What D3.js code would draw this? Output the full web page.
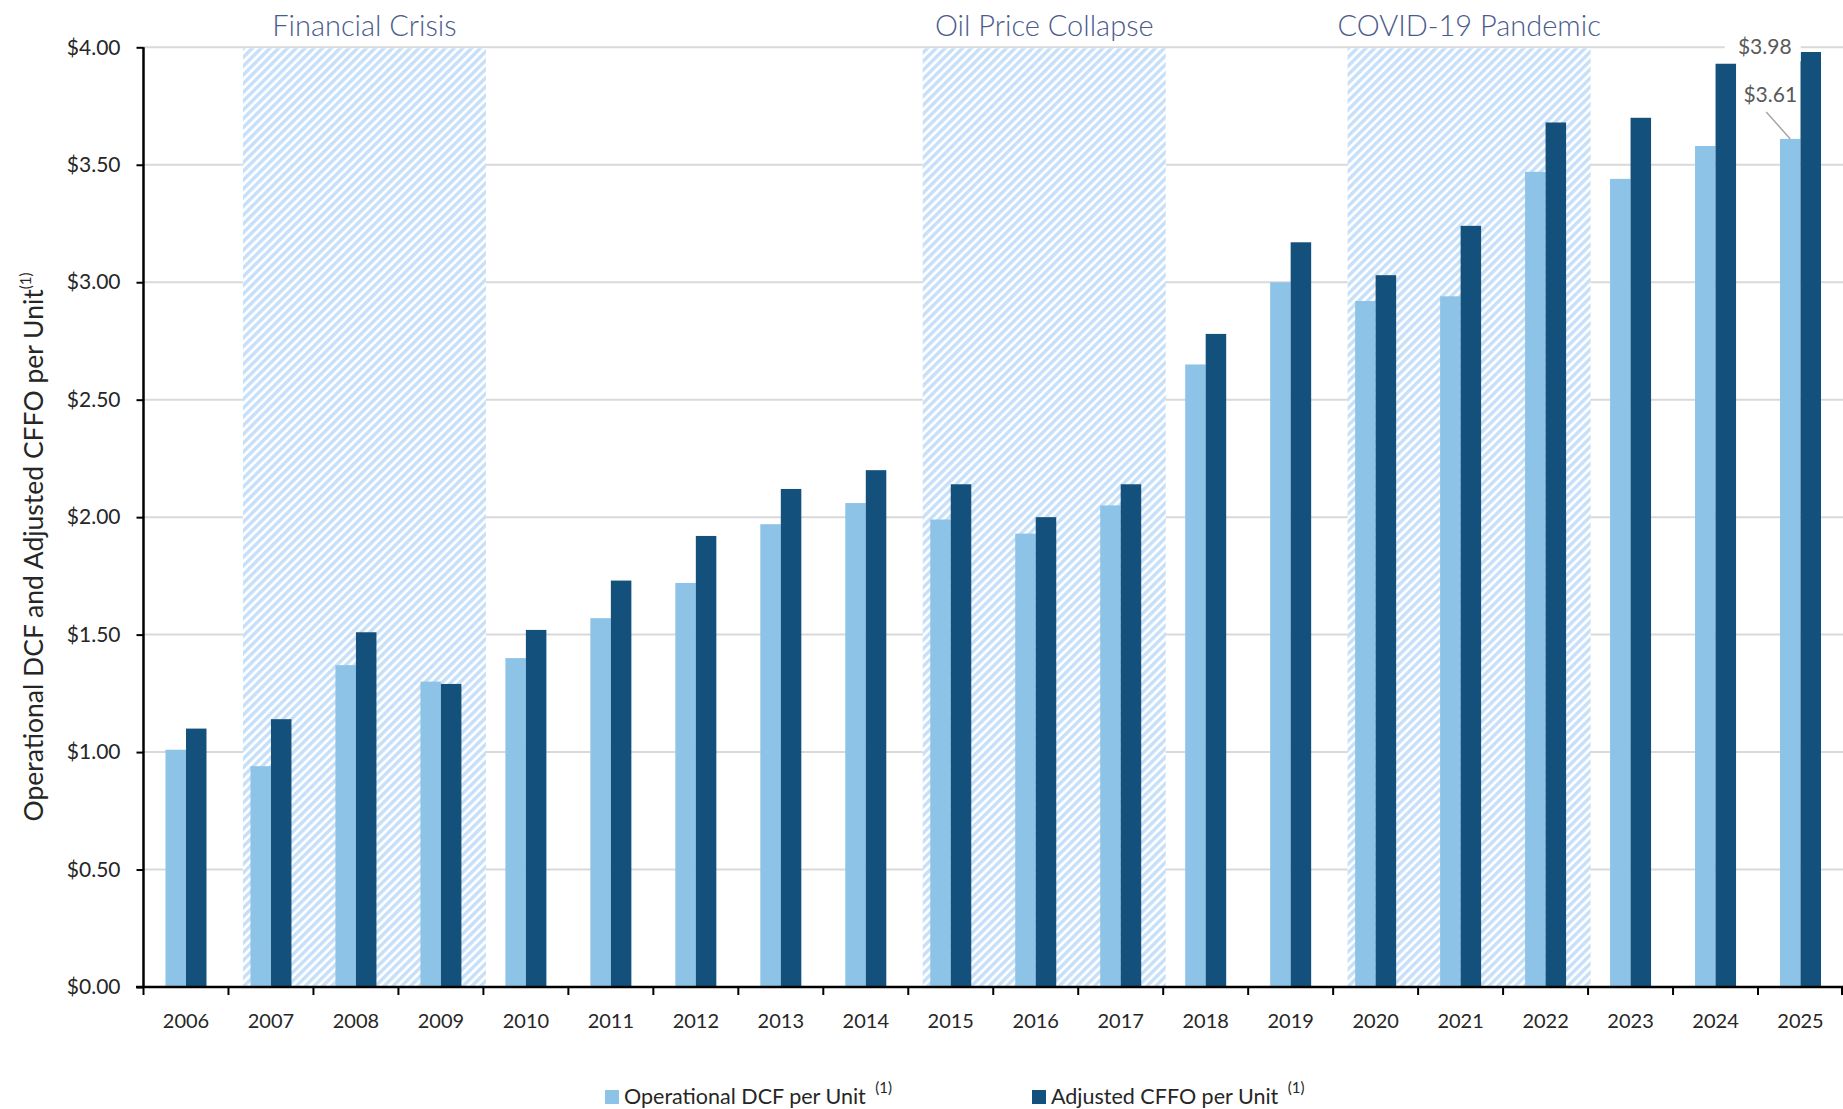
<!DOCTYPE html>
<html>
<head>
<meta charset="utf-8">
<script src="https://cdnjs.cloudflare.com/ajax/libs/d3/7.8.5/d3.min.js"></script>
<style>
    body { margin: 0; background: #fff; }
    text { font-family: Lato, "Open Sans", sans-serif; }
</style>
</head>
<body>
<div id="chart"></div>
<script>
var years = ["2006","2007","2008","2009","2010","2011","2012","2013","2014","2015",
             "2016","2017","2018","2019","2020","2021","2022","2023","2024","2025"];
var dcfPerUnit  = [1.01,0.94,1.37,1.30,1.40,1.57,1.72,1.97,2.06,1.99,
                   1.93,2.05,2.65,3.00,2.92,2.94,3.47,3.44,3.58,3.61];
var cffoPerUnit = [1.10,1.14,1.51,1.29,1.52,1.73,1.92,2.12,2.20,2.14,
                   2.00,2.14,2.78,3.17,3.03,3.24,3.68,3.70,3.93,3.98];
var seriesNames = ["Operational DCF per Unit", "Adjusted CFFO per Unit"];
var periods = [
    {label: "Financial Crisis",    from: "2007", to: "2009"},
    {label: "Oil Price Collapse",  from: "2015", to: "2017"},
    {label: "COVID-19 Pandemic",   from: "2020", to: "2022"}
];
var yTicks = [0, 0.5, 1, 1.5, 2, 2.5, 3, 3.5, 4];

(function () {
    var width = 1843,
        height = 1109;

    var light = "#8DC3E7",
        dark = "#13517C";

    var svg = d3.select("#chart")
        .append("svg")
        .attr("width", width)
        .attr("height", height);

    var defs = svg.append("defs");

    // diagonal hatch for the crisis periods
    var pat = defs.append("pattern")
        .attr("id", "hatch")
        .attr("patternUnits", "userSpaceOnUse")
        .attr("width", 6.2)
        .attr("height", 6.2)
        .attr("patternTransform", "rotate(45)");
    pat.append("rect")
        .attr("width", 6.2).attr("height", 6.2).attr("fill", "#fff");
    pat.append("rect")
        .attr("x", 0).attr("y", 0)
        .attr("width", 3.4).attr("height", 6.2)
        .attr("fill", "#C6E0F9");

    var x = d3.scaleBand().domain(years).range([143.5, 1843]);
    var bw = x.bandwidth();
    var xs = d3.scaleBand().domain(seriesNames).range([bw / 2 - 20.5, bw / 2 + 20.5]);
    var y = d3.scaleLinear().domain([0, 4]).range([987, 47.3]);

    var data = years.map(function (yr, i) {
        return {year: yr, values: [dcfPerUnit[i], cffoPerUnit[i]]};
    });

    // gridlines
    svg.append("g")
        .selectAll("line")
        .data(yTicks.filter(function (d) { return d > 0; }))
        .enter().append("line")
        .attr("x1", 143.5)
        .attr("x2", width)
        .attr("y1", function (d) { return y(d); })
        .attr("y2", function (d) { return y(d); })
        .attr("stroke", "#D9D9D9")
        .attr("stroke-width", 2);

    // shaded periods
    svg.append("g")
        .selectAll("rect")
        .data(periods)
        .enter().append("rect")
        .attr("x", function (d) { return x(d.from) + bw * 0.17; })
        .attr("width", function (d) { return x(d.to) + bw * 1.03 - (x(d.from) + bw * 0.17); })
        .attr("y", y(4) + 1)
        .attr("height", y(0) - y(4) - 1)
        .attr("fill", "url(#hatch)");

    svg.append("g")
        .selectAll("text")
        .data(periods)
        .enter().append("text")
        .attr("x", function (d) { return (x(d.from) + bw * 0.17 + x(d.to) + bw * 1.03) / 2; })
        .attr("y", 36)
        .attr("text-anchor", "middle")
        .attr("font-size", 29)
        .attr("font-weight", 300)
        .attr("fill", "#4A5B8C")
        .text(function (d) { return d.label; });

    // bars
    var groups = svg.append("g")
        .selectAll("g")
        .data(data)
        .enter().append("g")
        .attr("transform", function (d) { return "translate(" + x(d.year) + ",0)"; });

    groups.selectAll("rect")
        .data(function (d) {
            return d.values.map(function (v, j) { return {name: seriesNames[j], value: v}; });
        })
        .enter().append("rect")
        .attr("x", function (d) { return xs(d.name); })
        .attr("width", xs.bandwidth())
        .attr("y", function (d) { return y(d.value); })
        .attr("height", function (d) { return y(0) - y(d.value); })
        .attr("fill", function (d, j) { return j === 0 ? light : dark; });

    // y axis
    var yAxis = svg.append("g")
        .attr("transform", "translate(143.5,0)")
        .call(d3.axisLeft(y)
            .tickValues(yTicks)
            .tickSize(7)
            .tickPadding(16)
            .tickFormat(function (d) { return "$" + d.toFixed(2); }));
    yAxis.select(".domain").attr("stroke", "#000").attr("stroke-width", 2.5)
        .attr("d", "M0," + y(4) + "V" + y(0));
    yAxis.selectAll(".tick line").attr("stroke", "#000").attr("stroke-width", 2);
    yAxis.selectAll(".tick text")
        .attr("font-size", 21)
        .attr("fill", "#262626")
        .attr("font-family", "Lato, sans-serif");

    // x axis
    var xAxis = svg.append("g")
        .attr("transform", "translate(0," + y(0) + ")")
        .call(d3.axisBottom(x).tickSize(0).tickPadding(41));
    xAxis.select(".domain").attr("stroke", "#000").attr("stroke-width", 2.5)
        .attr("d", "M136," + 0 + "H" + width);
    xAxis.selectAll(".tick text")
        .attr("font-size", 20)
        .attr("fill", "#262626")
        .attr("font-family", "Lato, sans-serif")
        .attr("dy", "0");

    xAxis.selectAll(".xtick")
        .data(years.map(function (d) { return x(d); }).concat([x(years[years.length - 1]) + bw - 1]))
        .enter().append("line")
        .attr("class", "xtick")
        .attr("x1", function (d) { return d; })
        .attr("x2", function (d) { return d; })
        .attr("y1", 0)
        .attr("y2", 8)
        .attr("stroke", "#000")
        .attr("stroke-width", 2);

    // y title
    var yTitle = svg.append("text")
        .attr("transform", "translate(43,547) rotate(-90)")
        .attr("text-anchor", "middle")
        .attr("font-size", 26.5)
        .attr("fill", "#262626");
    yTitle.append("tspan").text("Operational DCF and Adjusted CFFO per Unit");
    yTitle.append("tspan").attr("font-size", 15).attr("dy", -12).text("(1)");

    // callouts on last year
    var last = data[data.length - 1];
    var lastX = x(last.year);
    var darkC = lastX + xs(seriesNames[1]) + xs.bandwidth() / 2;
    var lightC = lastX + xs(seriesNames[0]) + xs.bandwidth() / 2;

    svg.append("rect")
        .attr("x", darkC - 86)
        .attr("y", y(4) - 14)
        .attr("width", 76)
        .attr("height", 28)
        .attr("fill", "#fff");
    svg.append("text")
        .attr("x", darkC - 46)
        .attr("y", y(4) + 7)
        .attr("text-anchor", "middle")
        .attr("font-size", 21)
        .attr("fill", "#595959")
        .text("$" + last.values[1].toFixed(2));

    svg.append("text")
        .attr("x", lightC - 20)
        .attr("y", y(last.values[0]) - 37)
        .attr("text-anchor", "middle")
        .attr("font-size", 21)
        .attr("fill", "#595959")
        .text("$" + last.values[0].toFixed(2));
    svg.append("line")
        .attr("x1", lightC - 24)
        .attr("y1", y(last.values[0]) - 27)
        .attr("x2", lightC)
        .attr("y2", y(last.values[0]))
        .attr("stroke", "#A6A6A6")
        .attr("stroke-width", 1.5);

    // legend
    var legendX = [605, 1032];
    var legend = svg.append("g")
        .selectAll("g")
        .data(seriesNames)
        .enter().append("g")
        .attr("transform", function (d, i) { return "translate(" + legendX[i] + ",1090)"; });
    legend.append("rect")
        .attr("width", 14)
        .attr("height", 14)
        .attr("fill", function (d, i) { return i === 0 ? light : dark; });
    var lt = legend.append("text")
        .attr("x", 19)
        .attr("y", 14)
        .attr("font-size", 21.5)
        .attr("fill", "#262626");
    lt.append("tspan").text(function (d) { return d + " "; });
    lt.append("tspan")
        .attr("font-size", 15)
        .attr("dy", -11)
        .attr("dx", 4)
        .text("(1)");
})();
</script>
</body>
</html>
